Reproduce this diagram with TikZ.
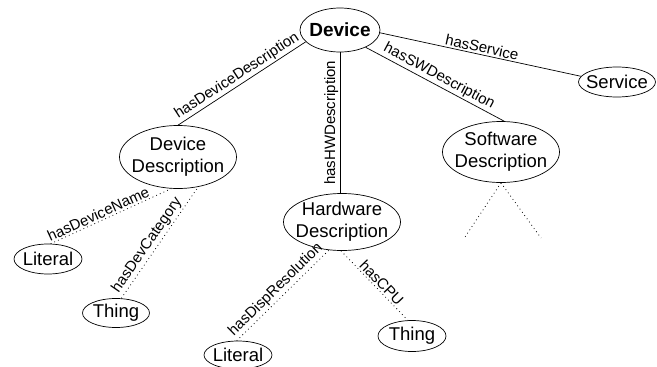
\documentclass[tikz,border=0pt]{standalone}
\usepackage{fontspec}
\setmainfont{Liberation Sans}
\usetikzlibrary{shapes.geometric}
\begin{document}
\begin{tikzpicture}[x=1pt,y=-1pt,
  ent/.style={draw, ellipse, inner sep=0pt, line width=0.7pt},
  etext/.style={font=\fontsize{18.5}{22}\selectfont, align=center, inner sep=0pt},
  rel/.style={line width=0.7pt},
  relopt/.style={line width=0.8pt, dash pattern=on 0.8pt off 3.2pt},
  lbl/.style={font=\fontsize{15}{18}\selectfont, sloped, above, inner sep=1.5pt}]
\useasboundingbox (0,0) rectangle (657,367);

% classes
\node[ent, minimum width=80pt, minimum height=44pt] (device) at (340,30) {};
\node[etext, font=\fontsize{19}{22}\selectfont\bfseries] (devicet) at (device) {Device};

\node[ent, minimum width=77pt, minimum height=30pt] (service) at (617,82) {};
\node[etext] (servicet) at (service) {Service};

\node[ent, minimum width=117pt, minimum height=63pt] (dd) at (178,157) {};
\node[etext] (ddt) at (dd) {Device\\Description};

\node[ent, minimum width=117pt, minimum height=61pt] (sw) at (501,152) {};
\node[etext] (swt) at (sw) {Software\\Description};

\node[ent, minimum width=117pt, minimum height=57pt] (hw) at (342,222) {};
\node[etext] (hwt) at (hw) {Hardware\\Description};

\node[ent, minimum width=68pt, minimum height=30pt] (litl) at (48,259) {};
\node[etext] (litlt) at (litl) {Literal};

\node[ent, minimum width=67pt, minimum height=29pt] (thingl) at (116,313) {};
\node[etext] (thinglt) at (thingl) {Thing};

\node[ent, minimum width=68pt, minimum height=28pt] (litb) at (238,355) {};
\node[etext] (litbt) at (litb) {Literal};

\node[ent, minimum width=68pt, minimum height=31pt] (thingr) at (412,336) {};
\node[etext] (thingrt) at (thingr) {Thing};

% open ends below the software description
\coordinate (swa) at (465,237);
\coordinate (swb) at (541,238);

% solid relations from Device
\draw[rel] (dd.north) -- (device.199) node[lbl, pos=0.5] {hasDeviceDescription};
\draw[rel] (device.356) -- (service.171) node[lbl, pos=0.5] {hasService};
\draw[rel] (device.326) -- (sw.84) node[lbl, pos=0.5] {hasSWDescription};
\draw[rel] (device.south) -- (device.south |- hw.north)
  node[midway, rotate=90, above, inner sep=1.5pt, font=\fontsize{15}{18}\selectfont] {hasHWDescription};

% dotted relations
\draw[relopt] (litl.80) -- (dd.258) node[lbl, pos=0.42] {hasDeviceName};
\draw[relopt] (thingl.70) -- (dd.304) node[lbl, pos=0.43] {hasDevCategory};
\draw[relopt] (litb.95) -- (hw.245) node[lbl, pos=0.49] {hasDispResolution};
\draw[relopt] (hw.268) -- (thingr.105) node[lbl, pos=0.53] {hasCPU};
\draw[relopt] (sw.south) -- (swa);
\draw[relopt] (sw.south) -- (swb);
\end{tikzpicture}
\end{document}
